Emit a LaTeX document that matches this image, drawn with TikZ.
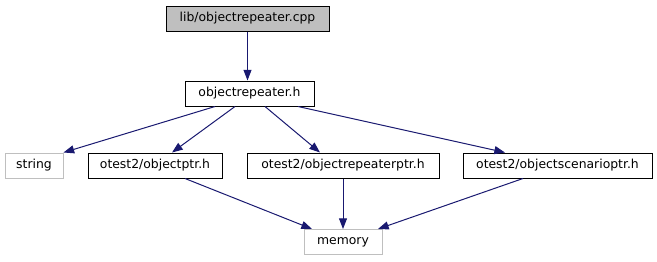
\documentclass[tikz,border=0pt]{standalone}
\usepackage{fontspec}
\setmainfont{DejaVu Sans}
\usetikzlibrary{arrows.meta,calc}
\definecolor{edgeblue}{HTML}{191970}
\definecolor{boxgrey}{HTML}{BFBFBF}
\begin{document}
\begin{tikzpicture}[x=0.75pt,y=-0.75pt,
  filebox/.style={draw=black,line width=0.75pt,inner sep=0pt,
    minimum height=25*0.75pt,font=\fontsize{9.3pt}{11pt}\selectfont,anchor=center},
  mainbox/.style={filebox,fill=boxgrey},
  extbox/.style={filebox,draw=boxgrey},
  dep/.style={draw=edgeblue,line width=0.75pt,
    -{Triangle[length=8pt,width=6pt,color=edgeblue]}}]
\useasboundingbox (0,0) rectangle (657,261);
% file nodes
\node[mainbox,minimum width=163*0.75pt] (cpp) at (247.5,18.5) {lib/objectrepeater.cpp};
\node[filebox,minimum width=129*0.75pt] (h) at (249.5,93.5) {objectrepeater.h};
\node[extbox,minimum width=58*0.75pt] (str) at (34,165.5) {string};
\node[filebox,minimum width=134*0.75pt] (optr) at (155,165.5) {otest2/objectptr.h};
\node[filebox,minimum width=192*0.75pt] (rptr) at (343,165.5) {otest2/objectrepeaterptr.h};
\node[filebox,minimum width=189*0.75pt] (sptr) at (557.5,165.5) {otest2/objectscenarioptr.h};
\node[extbox,minimum width=78*0.75pt] (mem) at (343,242) {memory};
% include edges
\draw[dep] (cpp.south) -- (cpp.south |- h.north);
\draw[dep] ($(h.south)+(-34.5,0)$) -- (str.north east);
\draw[dep] ($(h.south)+(-14.5,0)$) -- ($(optr.north)+(17,0)$);
\draw[dep] ($(h.south)+(15.5,0)$) -- ($(rptr.north)+(-23,0)$);
\draw[dep] ($(h.south)+(48.5,0)$) -- ($(sptr.north)+(-52.5,0)$);
\draw[dep] ($(optr.south)+(30,0)$) -- ($(mem.north)+(-31,0)$);
\draw[dep] (rptr.south) -- (mem.north);
\draw[dep] ($(sptr.south)+(-34.5,0)$) -- ($(mem.north)+(35,0)$);
\end{tikzpicture}
\end{document}
